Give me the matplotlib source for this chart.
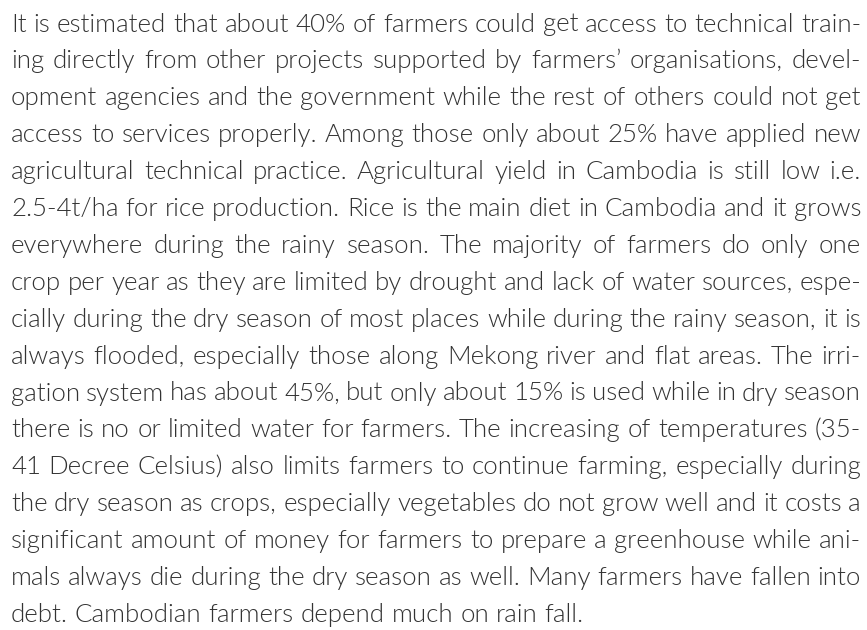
import matplotlib
matplotlib.use("Agg")
import matplotlib.pyplot as plt

# paragraph, one entry per printed line (justified except the last)
lines = [
    "It is estimated that about 40% of farmers could get access to technical train-",
    "ing directly from other projects supported by farmers\u2019 organisations, devel-",
    "opment agencies and the government while the rest of others could not get",
    "access to services properly. Among those only about 25% have applied new",
    "agricultural technical practice. Agricultural yield in Cambodia is still low i.e.",
    "2.5-4t/ha for rice production. Rice is the main diet in Cambodia and it grows",
    "everywhere during the rainy season. The majority of farmers do only one",
    "crop per year as they are limited by drought and lack of water sources, espe-",
    "cially during the dry season of most places while during the rainy season, it is",
    "always flooded, especially those along Mekong river and flat areas. The irri-",
    "gation system has about 45%, but only about 15% is used while in dry season",
    "there is no or limited water for farmers. The increasing of temperatures (35-",
    "41 Decree Celsius) also limits farmers to continue farming, especially during",
    "the dry season as crops, especially vegetables do not grow well and it costs a",
    "significant amount of money for farmers to prepare a greenhouse while ani-",
    "mals always die during the dry season as well. Many farmers have fallen into",
    "debt. Cambodian farmers depend much on rain fall.",
]

W, H = 867, 630
left, right = 11, 861
first_base, step = 31.5, 36.9
color = "#333333"
font = dict(family="Lato", weight=300, color=color)

fig = plt.figure(figsize=(W / 100, H / 100), dpi=100)
fig.patch.set_facecolor("white")
r = fig.canvas.get_renderer()


def width(s, size):
    t = fig.text(0, 0, s, fontsize=size, **font)
    w = t.get_window_extent(r).width
    t.remove()
    return w


# pick the size from the tightest line, a touch larger than a plain fit
size = 17.0
natural = max(width(l, size) for l in lines)
size = size * (right - left) / natural * 1.02

for i, line in enumerate(lines):
    words = line.split(" ")
    ws = [width(w, size) for w in words]
    y = 1 - (first_base + i * step) / H
    if i == len(lines) - 1:
        gap = width("x x", size) - width("xx", size)
    else:
        gap = (right - left - sum(ws)) / (len(words) - 1)
    x = left
    for w, wd in zip(words, ws):
        fig.text(x / W, y, w, fontsize=size, va="baseline", ha="left", **font)
        x += wd + gap

fig.savefig("out.png", dpi=100, facecolor="white")
